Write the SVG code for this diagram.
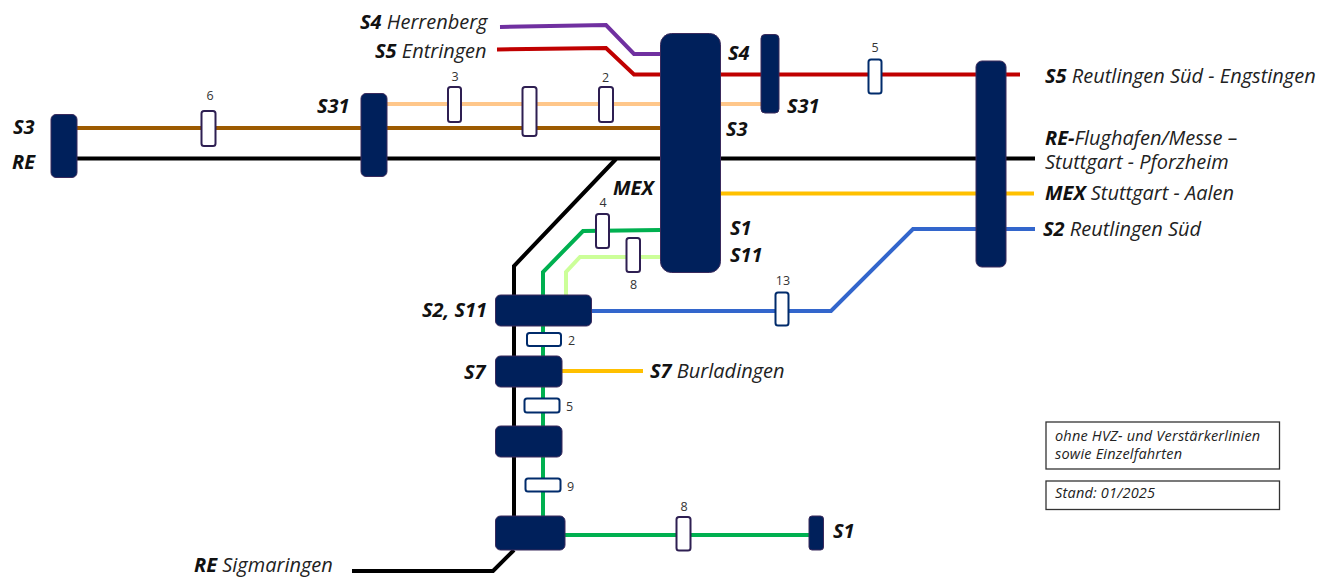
<svg xmlns="http://www.w3.org/2000/svg" width="1335" height="578" viewBox="0 0 1335 578">
<style>
text{font-family:"Open Sans","Noto Sans",sans-serif;font-style:italic;fill:#222}
.l{font-size:20px}
.l tspan,.b{font-weight:700;fill:#111}
.b{font-size:20px}
.n{font-size:12.500px;font-style:normal;fill:#333}
.k{font-size:14.500px;letter-spacing:.2px}
.c path{fill:none;stroke-width:4;stroke-linejoin:miter}
.h{fill:#00205b;stroke:#3a2a5c;stroke-width:1}
.t{fill:#fff;stroke:#2e1f52;stroke-width:2}
.u{fill:#fff;stroke:#002b6b;stroke-width:2}
.x{fill:#fff;stroke:#333;stroke-width:1.3}
</style>
<g id="connectors" class="c">
<path stroke="#7030a0" d="M500 27L606 25L634 54H660"/>
<path stroke="#c00000" d="M497 49.500L606 48L634 74.500H1020"/>
<path stroke="#ffc78a" d="M387 104H761"/>
<path stroke="#9c5a00" d="M77 128H660"/>
<path stroke="#000" d="M77 158.500H1035"/>
<path stroke="#000" d="M616 159L514 266V516"/>
<path stroke="#000" d="M514 550L493 571H352"/>
<path stroke="#ffc000" d="M720 193.500H1034"/>
<path stroke="#00b050" d="M660 230L583 231L543 272V516"/>
<path stroke="#00b050" d="M565 535H809"/>
<path stroke="#ccff99" d="M660 257H580L566 272V295"/>
<path stroke="#3366cc" d="M589 311H831L913 229H1035"/>
<path stroke="#ffc000" d="M562 371H643"/>
</g>
<g id="hub-main"><rect class="h" x="660.500" y="33.500" width="60" height="239" rx="11"/></g>
<g id="hub-s4"><rect class="h" x="761" y="34.500" width="18" height="78.500" rx="4"/></g>
<g id="hub-right"><rect class="h" x="976" y="61" width="30" height="206" rx="6"/></g>
<g id="hub-s31"><rect class="h" x="361" y="93.500" width="26" height="83" rx="5"/></g>
<g id="hub-left"><rect class="h" x="51" y="114.500" width="26" height="63" rx="5"/></g>
<g id="hub-s2"><rect class="h" x="495.500" y="295" width="96" height="31" rx="5"/></g>
<g id="hub-s7"><rect class="h" x="495.500" y="356" width="66.500" height="31" rx="5"/></g>
<g id="hub-3"><rect class="h" x="495.500" y="426" width="66.500" height="31" rx="5"/></g>
<g id="hub-4"><rect class="h" x="495.500" y="516" width="69.500" height="34" rx="5"/></g>
<g id="hub-s1"><rect class="h" x="809" y="516" width="14.500" height="34" rx="3"/></g>
<g id="tick-6"><rect class="t" x="201.500" y="111" width="14" height="35" rx="2.500"/><text class="n" x="210" y="100" text-anchor="middle">6</text></g>
<g id="tick-3"><rect class="t" x="448" y="87" width="13" height="35" rx="2.500"/><text class="n" x="455" y="81" text-anchor="middle">3</text></g>
<g id="tick-mid"><rect class="t" x="522.500" y="87" width="14" height="49" rx="2.500"/></g>
<g id="tick-2"><rect class="t" x="599" y="87" width="14" height="35" rx="2.500"/><text class="n" x="605.500" y="82" text-anchor="middle">2</text></g>
<g id="tick-5"><rect class="u" x="868.500" y="59.500" width="13" height="34" rx="2.500"/><text class="n" x="875" y="52" text-anchor="middle">5</text></g>
<g id="tick-4"><rect class="t" x="596" y="214" width="13" height="34" rx="2.500"/><text class="n" x="603" y="207" text-anchor="middle">4</text></g>
<g id="tick-8a"><rect class="t" x="626.500" y="238" width="13.500" height="34" rx="2.500"/><text class="n" x="633.500" y="289" text-anchor="middle">8</text></g>
<g id="tick-13"><rect class="u" x="775.500" y="292.500" width="13" height="33" rx="2.500"/><text class="n" x="783" y="285" text-anchor="middle">13</text></g>
<g id="tick-2b"><rect class="u" x="527" y="333" width="34" height="13" rx="2.500"/><text class="n" x="568" y="345">2</text></g>
<g id="tick-5b"><rect class="u" x="524.500" y="398.500" width="35" height="14" rx="2.500"/><text class="n" x="566" y="411">5</text></g>
<g id="tick-9"><rect class="u" x="525.500" y="478.500" width="35" height="13" rx="2.500"/><text class="n" x="567" y="491">9</text></g>
<g id="tick-8b"><rect class="t" x="676.500" y="517" width="14" height="33.500" rx="2.500"/><text class="n" x="684" y="511" text-anchor="middle">8</text></g>
<g id="labels">
<text class="l" x="360" y="29"><tspan>S4</tspan> Herrenberg</text>
<text class="l" x="375" y="58"><tspan>S5</tspan> Entringen</text>
<text class="b" x="728" y="60">S4</text>
<text class="b" x="787" y="113">S31</text>
<text class="b" x="726" y="136">S3</text>
<text class="b" x="613" y="195">MEX</text>
<text class="b" x="730" y="235">S1</text>
<text class="b" x="730" y="262">S11</text>
<text class="b" x="317" y="113">S31</text>
<text class="b" x="13" y="134">S3</text>
<text class="b" x="12" y="169">RE</text>
<text class="b" x="422" y="317">S2, S11</text>
<text class="b" x="464" y="379">S7</text>
<text class="b" x="833" y="538">S1</text>
<text class="l" x="650" y="378"><tspan>S7</tspan> Burladingen</text>
<text class="l" x="194" y="572"><tspan>RE</tspan> Sigmaringen</text>
<text class="l" x="1045" y="83"><tspan>S5</tspan> Reutlingen Süd - Engstingen</text>
<text class="l" x="1045" y="145"><tspan>RE-</tspan>Flughafen/Messe –</text>
<text class="l" x="1045" y="169">Stuttgart - Pforzheim</text>
<text class="l" x="1045" y="200"><tspan>MEX</tspan> Stuttgart - Aalen</text>
<text class="l" x="1043" y="236"><tspan>S2</tspan> Reutlingen Süd</text>
</g>
<g id="note-1"><rect class="x" x="1046" y="422" width="233.500" height="47"/><text class="k" x="1055" y="441">ohne HVZ- und Verstärkerlinien</text><text class="k" x="1055" y="459">sowie Einzelfahrten</text></g>
<g id="note-2"><rect class="x" x="1046" y="481" width="233.500" height="28.500"/><text class="k" x="1055" y="498">Stand: 01/2025</text></g>
</svg>
